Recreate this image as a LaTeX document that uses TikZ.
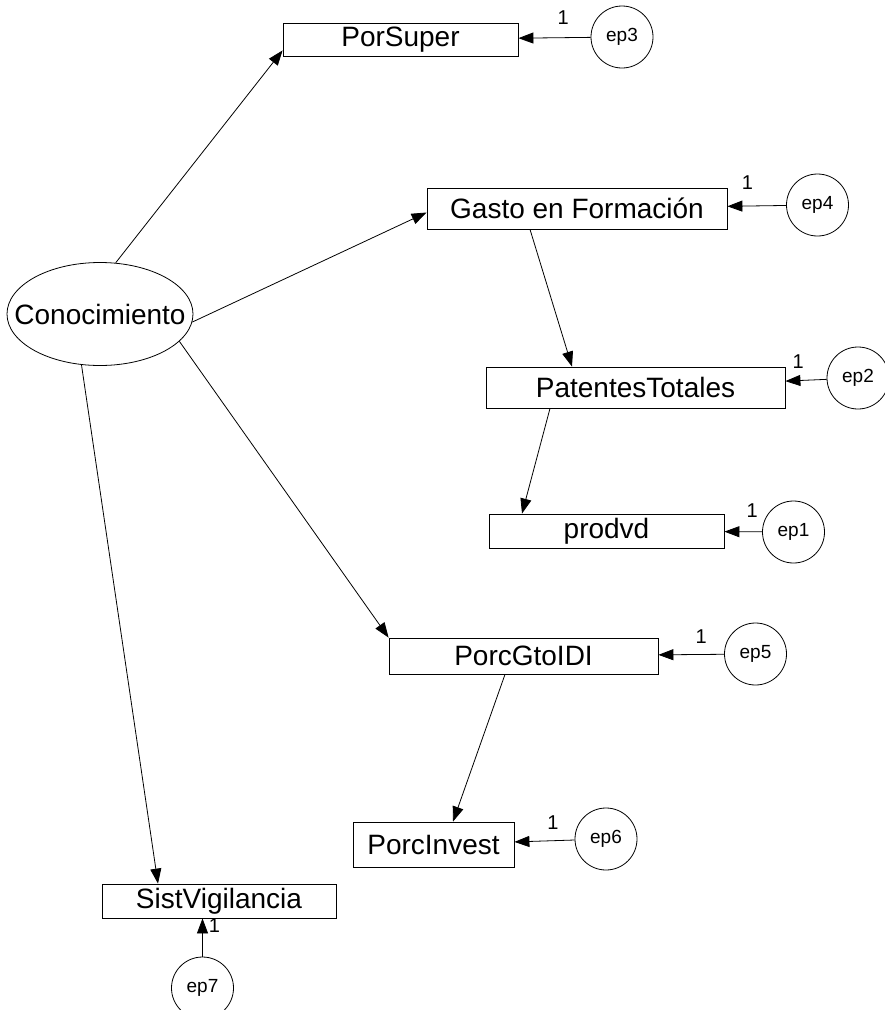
\documentclass[tikz,border=0pt]{standalone}
\usepackage{fontspec}
\setmainfont{Liberation Sans}
\usepackage{tikz}
\usetikzlibrary{shapes,arrows.meta,positioning}

\begin{document}
\begin{tikzpicture}[
    x=1pt, y=1pt,
    node distance=200pt,
    var/.style={rectangle, draw, line width=0.8pt, inner sep=0pt, font=\fontsize{28}{30}\selectfont},
    latent/.style={ellipse, draw, line width=0.8pt, inner xsep=-20pt, inner ysep=0pt, minimum width=186pt, minimum height=103pt, font=\fontsize{28}{30}\selectfont},
    err/.style={circle, draw, line width=0.8pt, inner sep=0pt, minimum size=62pt, font=\fontsize{19}{20}\selectfont},
    arrow/.style={-{Triangle[length=15pt, width=11pt]}, line width=0.8pt},
    one/.style={font=\fontsize{20}{22}\selectfont, inner sep=0pt}
]
    \useasboundingbox (0,0) rectangle (885,-1010);

    \node[latent] (conoc) at (100,-314) {Conocimiento};
    \node[var, minimum width=235pt, minimum height=33pt] (porsuper) at (400.5,-39.5) {PorSuper};
    \node[var, minimum width=300pt, minimum height=41pt] (gasto) at (577,-208.5) {Gasto en Formación};
    \node[var, minimum width=299pt, minimum height=41pt] (patentes) at (635.5,-387.5) {PatentesTotales};
    \node[var, minimum width=235pt, minimum height=34pt] (prodvd) at (606.5,-531) {prodvd};
    \node[var, minimum width=269pt, minimum height=36pt] (porcgto) at (523.5,-656) {PorcGtoIDI};
    \node[var, minimum width=161pt, minimum height=45pt] (porcinv) at (433.5,-844.5) {PorcInvest};
    \node[var, minimum width=234pt, minimum height=34pt] (sistvig) at (219,-901) {SistVigilancia};

    \node[err, right of=porsuper, xshift=21.5pt, yshift=2.5pt] (ep3) {ep3};
    \node[err, right of=gasto, xshift=40.5pt, yshift=3.5pt] (ep4) {ep4};
    \node[err, right of=patentes, xshift=22.5pt, yshift=9.5pt] (ep2) {ep2};
    \node[err, right of=prodvd, xshift=-13pt, yshift=-1pt] (ep1) {ep1};
    \node[err, right of=porcgto, xshift=32pt, yshift=2pt] (ep5) {ep5};
    \node[err, right of=porcinv, xshift=-27.5pt, yshift=5.5pt] (ep6) {ep6};
    \node[err, below of=sistvig, node distance=87pt, xshift=-16.5pt] (ep7) {ep7};

    \draw[arrow] (conoc.73) -- ([yshift=6pt]porsuper.south west);
    \draw[arrow] (conoc.-5) -- ([yshift=-4pt]gasto.west);
    \draw[arrow] (conoc.-19) -- (porcgto.north west);
    \draw[arrow] (conoc.-110) -- ([xshift=-61pt]sistvig.north);
    \draw[arrow] ([xshift=-47pt]gasto.south) -- ([xshift=-63.5pt]patentes.north);
    \draw[arrow] ([xshift=-85.5pt]patentes.south) -- ([xshift=-84.5pt]prodvd.north);
    \draw[arrow] ([xshift=-18.5pt]porcgto.south) -- ([xshift=19.5pt]porcinv.north);

    \draw[arrow] (ep3) -- node[one, pos=0.38, above=13pt] (one3) {1} (porsuper);
    \draw[arrow] (ep4) -- node[one, pos=0.66, above=16pt] (one4) {1} (gasto);
    \draw[arrow] (ep2) -- node[one, pos=0.69, above=12pt] (one2) {1} (patentes);
    \draw[arrow] (ep1) -- node[one, pos=0.26, above=14pt] (one1) {1} (prodvd);
    \draw[arrow] (ep5) -- node[one, pos=0.35, above=11pt] (one5) {1} (porcgto);
    \draw[arrow] (ep6) -- node[one, pos=0.36, above=11pt] (one6) {1} (porcinv);
    \draw[arrow] (ep7.north) -- node[one, pos=0.82, right=6pt] (one7) {1} (ep7.north |- sistvig.south);
\end{tikzpicture}
\end{document}
